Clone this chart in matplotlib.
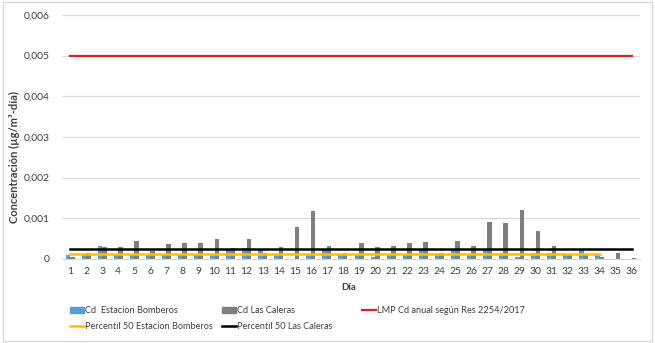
import numpy as np
import matplotlib.pyplot as plt
from matplotlib.patches import Patch, Rectangle
from matplotlib.lines import Line2D
from matplotlib.ticker import FuncFormatter

plt.rcParams['font.family'] = ['Lato', 'DejaVu Sans']

dias = list(range(1, 37))

# Cd (µg/m3-dia) por estacion
cd_bomberos = [0.00010, 0.00012, 0.00033, 0.00010, 0.00010, 0.00010, 0.00012, 0.00012, 0.00012,
               0.00012, 0.00025, 0.00028, 0.00022, 0.00010, 0.00001, 0.00012, 0.00022, 0.00010,
               0.00012, 0.00005, 0.00012, 0.00012, 0.00022, 0.00012, 0.00022, 0.00013, 0.00022,
               0.00015, 0.00005, 0.00015, 0.00015, 0.00012, 0.00022, 0.00010, 0.0, 0.0]
cd_caleras = [0.00005, 0.00015, 0.00030, 0.00030, 0.00045, 0.00020, 0.00038, 0.00040, 0.00040,
              0.00048, 0.00028, 0.00050, 0.00015, 0.00030, 0.00078, 0.00118, 0.00033, 0.00015,
              0.00040, 0.00030, 0.00031, 0.00040, 0.00042, 0.00015, 0.00045, 0.00033, 0.00090,
              0.00088, 0.00120, 0.00070, 0.00033, 0.00010, 0.00010, 0.00005, 0.00015, 0.00002]

lmp = 0.005
p50_bomberos = 0.00012
p50_caleras = 0.00025
n_bomberos = 34

blue = '#5B9BD5'
gray = '#7F7F7F'
red = '#E02020'
yellow = '#FFC000'
txt = '#404040'

fig = plt.figure(figsize=(6.55, 3.43), dpi=100)
ax = fig.add_axes([0.0947, 0.2449, 0.8823, 0.7114])

x = np.array(dias)
w = 0.28
ax.bar(x - w / 2, cd_bomberos, w, color=blue, zorder=2)
ax.bar(x + w / 2, cd_caleras, w, color=gray, zorder=2)

ax.plot(dias, [lmp] * len(dias), color=red, lw=1.6, zorder=3)
ax.plot(dias[:n_bomberos], [p50_bomberos] * n_bomberos, color=yellow, lw=1.8, zorder=3)
ax.plot(dias, [p50_caleras] * len(dias), color='black', lw=1.8, zorder=4)

ax.set_xlim(0.5, 36.5)
ax.set_ylim(0, 0.006)
ax.set_yticks(np.arange(0, 0.0061, 0.001))
ax.yaxis.set_major_formatter(FuncFormatter(lambda v, p: '0' if v == 0 else f'{v:.3f}'.replace('.', ',')))
ax.set_xticks(dias)
ax.grid(axis='y', color='#D9D9D9', lw=0.8, zorder=0)
ax.set_axisbelow(True)
for s in ['top', 'right', 'left']:
    ax.spines[s].set_visible(False)
ax.spines['bottom'].set_color('#D9D9D9')
ax.tick_params(length=0, labelsize=7.5, colors=txt)
ax.tick_params(axis='y', pad=9)
ax.tick_params(axis='x', pad=6)

fig.text(0.532, 1 - 287 / 343, 'Día', ha='center', va='center', fontsize=7, fontweight='bold', color=txt)
fig.text(0.022, 1 - 157 / 343, 'Concentración (µg/m³-día)', ha='center', va='center', rotation=90,
         fontsize=8, fontweight='bold', color=txt)

# leyenda: dos columnas a la izquierda y el LMP aparte
h1 = [Patch(color=blue, label='Cd  Estacion Bomberos'),
      Line2D([], [], color=yellow, lw=1.8, label='Percentil 50 Estacion Bomberos'),
      Patch(color=gray, label='Cd Las Caleras'),
      Line2D([], [], color='black', lw=1.8, label='Percentil 50 Las Caleras')]
leg = fig.legend(handles=h1, ncol=2, loc='upper left', bbox_to_anchor=(0.107, 1 - 306 / 343),
                 frameon=False, fontsize=6.6, handlelength=1.5, handleheight=0.6, handletextpad=0.15,
                 columnspacing=1.0, labelspacing=0.75, borderaxespad=0, borderpad=0)
for t in leg.get_texts():
    t.set_color(txt)
leg2 = fig.legend(handles=[Line2D([], [], color=red, lw=1.6, label='LMP Cd anual según Res 2254/2017')],
                  loc='upper left', bbox_to_anchor=(0.553, 1 - 306 / 343), frameon=False, fontsize=6.6,
                  handlelength=1.5, handletextpad=0.15, borderaxespad=0, borderpad=0)
leg2.get_texts()[0].set_color(txt)

fig.patches.append(Rectangle((0.004, 0.006), 0.992, 0.988, transform=fig.transFigure,
                             fill=False, edgecolor='#D9D9D9', lw=1))

fig.savefig('out.png', dpi=100)
